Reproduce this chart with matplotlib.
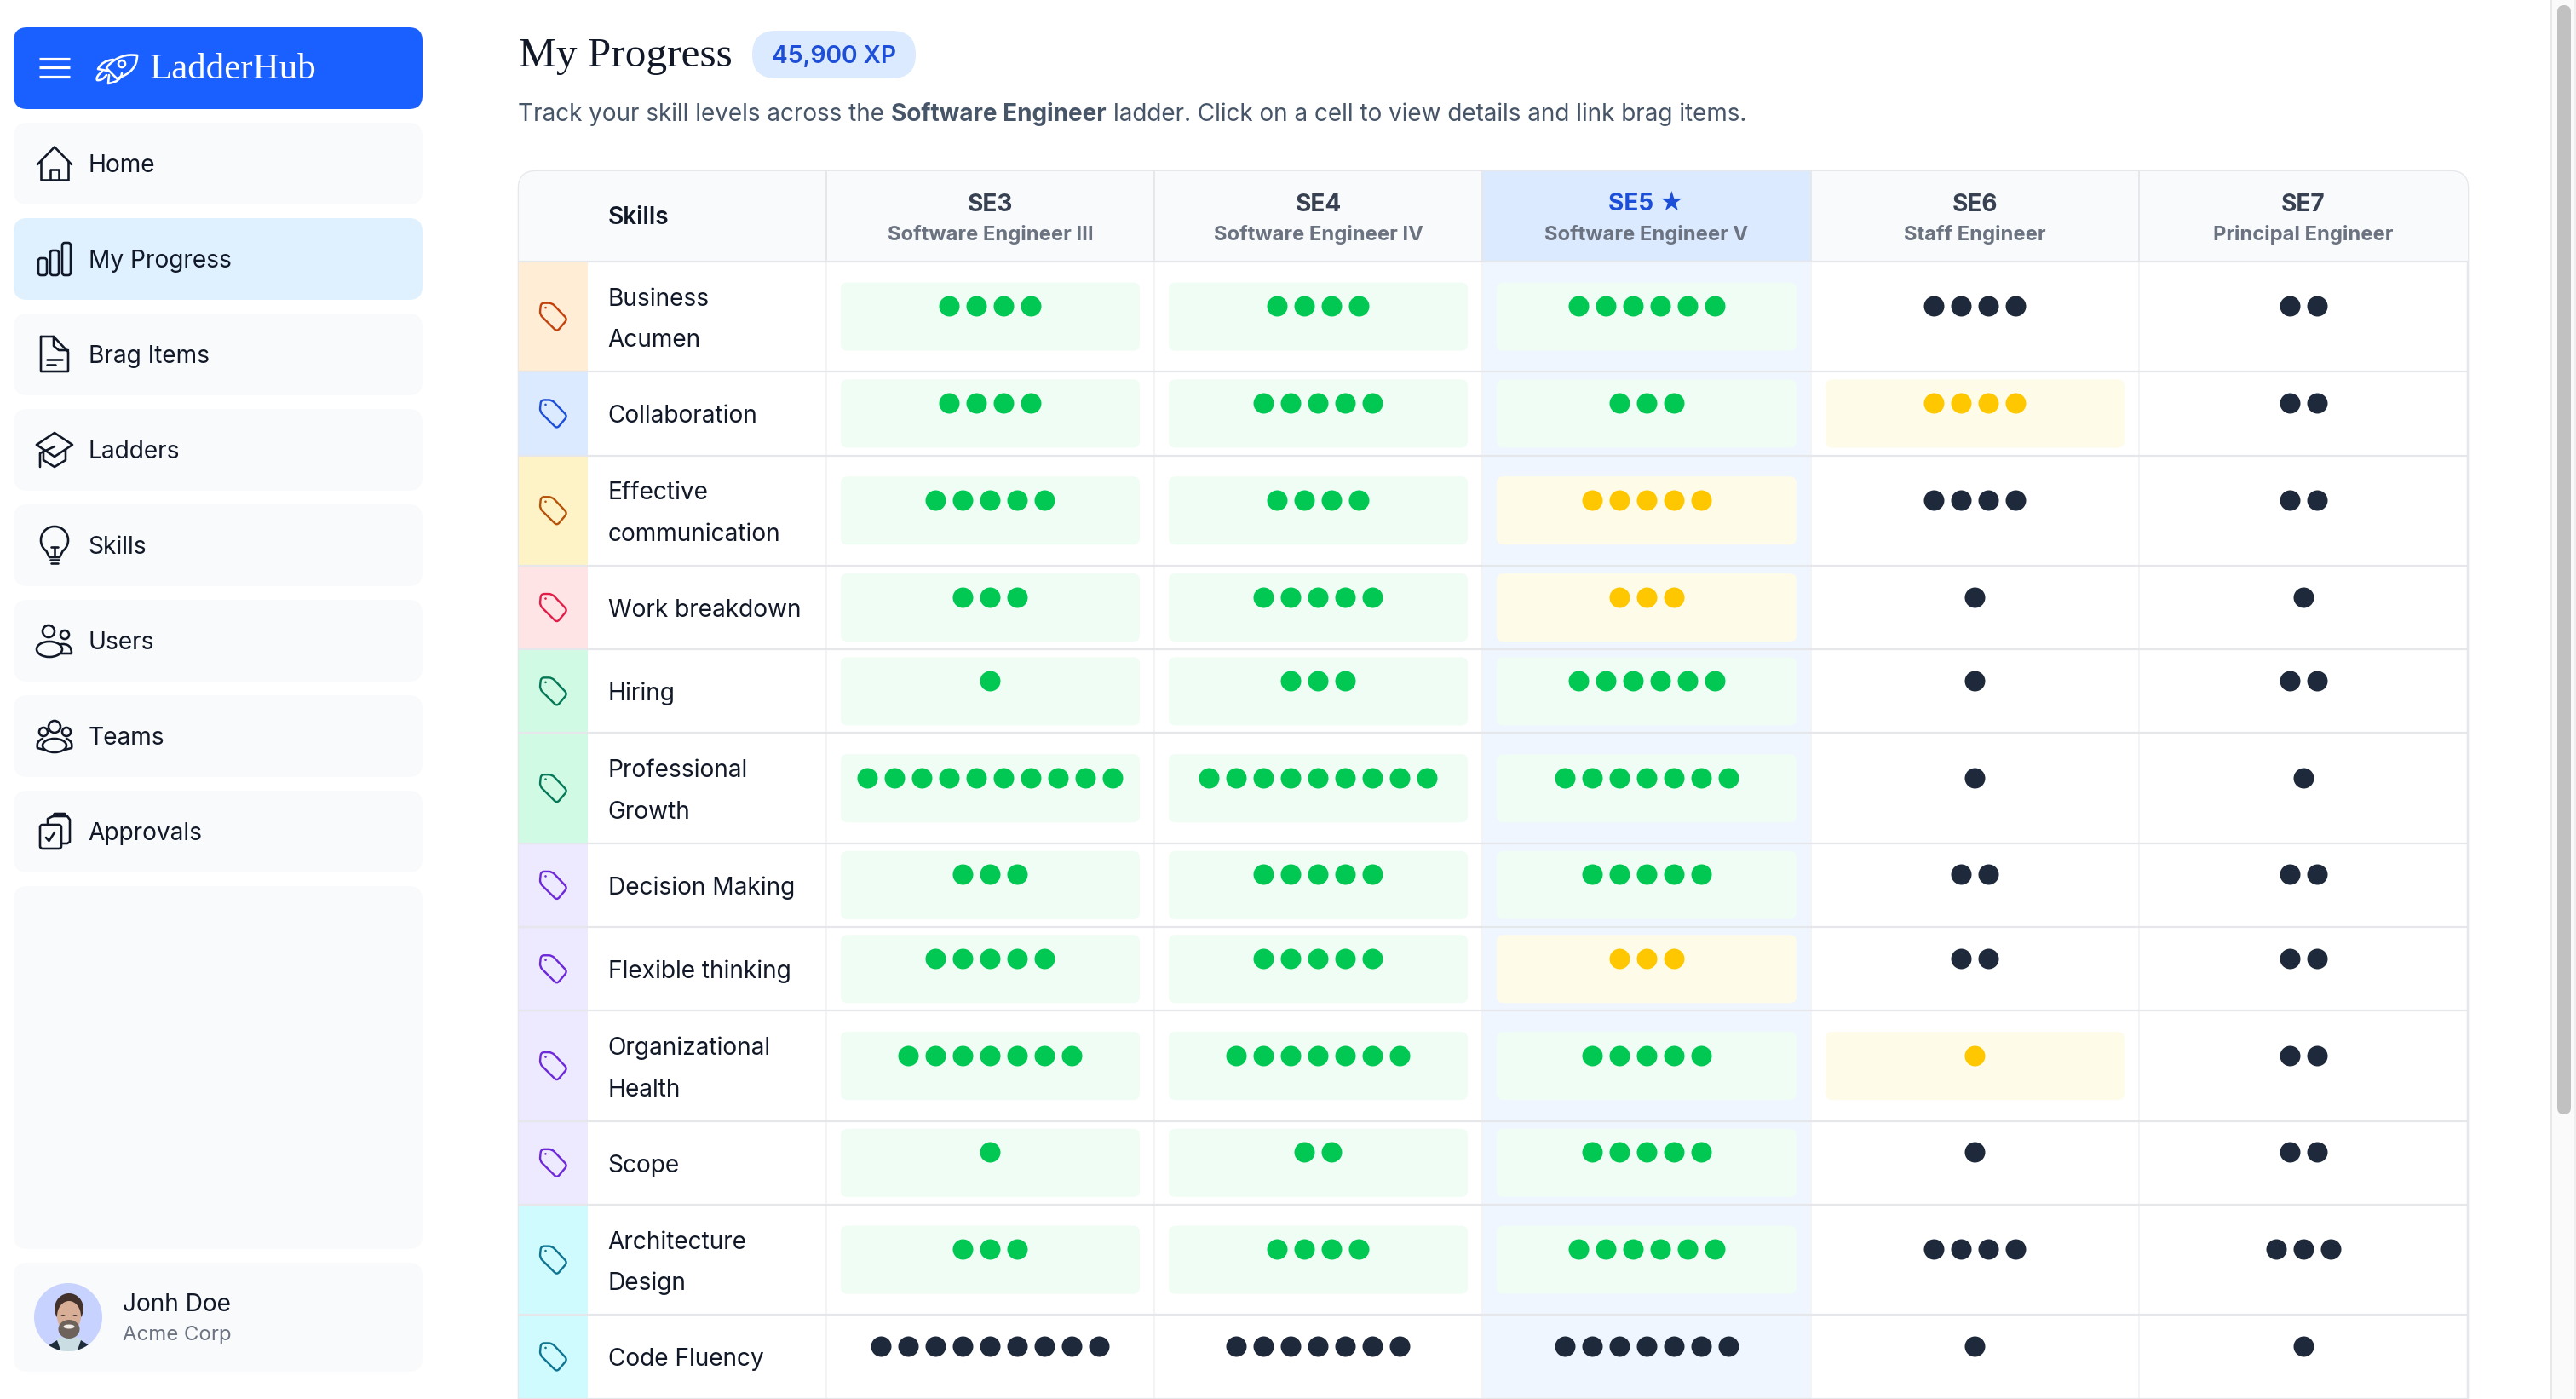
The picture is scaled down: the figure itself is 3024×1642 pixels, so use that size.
import math
import matplotlib
matplotlib.use('Agg')
import matplotlib.pyplot as plt
from matplotlib.patches import FancyBboxPatch, Rectangle, Circle, Ellipse, Polygon, PathPatch, Arc
from matplotlib.path import Path

# table data
skills = ['Business\nAcumen', 'Collaboration', 'Effective\ncommunication', 'Work breakdown', 'Hiring',
          'Professional\nGrowth', 'Decision Making', 'Flexible thinking', 'Organizational\nHealth',
          'Scope', 'Architecture\nDesign', 'Code Fluency']
tag_bg = ['#FFEDD5', '#DBEAFE', '#FEF3C7', '#FFE4E6', '#D1FAE5', '#D1FAE5',
          '#EDE9FE', '#EDE9FE', '#EDE9FE', '#EDE9FE', '#CFFAFE', '#CFFAFE']
tag_fg = ['#C2410C', '#1D4ED8', '#B45309', '#E11D48', '#047857', '#047857',
          '#6D28D9', '#6D28D9', '#6D28D9', '#6D28D9', '#0E7490', '#0E7490']

levels = ['SE3', 'SE4', 'SE5', 'SE6', 'SE7']
level_names = ['Software Engineer III', 'Software Engineer IV', 'Software Engineer V',
               'Staff Engineer', 'Principal Engineer']

se3_dots = [4, 4, 5, 3, 1, 10, 3, 5, 7, 1, 3, 9]
se4_dots = [4, 5, 4, 5, 3, 9, 5, 5, 7, 2, 4, 7]
se5_dots = [6, 3, 5, 3, 6, 7, 5, 3, 5, 5, 6, 7]
se6_dots = [4, 4, 4, 1, 1, 1, 2, 2, 1, 1, 4, 1]
se7_dots = [2, 2, 2, 1, 2, 1, 2, 2, 2, 2, 3, 1]

# g = met, y = in progress, d = not required yet
se3_state = 'gggggggggggd'
se4_state = 'gggggggggggd'
se5_state = 'ggyygggyggg' + 'd'
se6_state = 'dyddddddyddd'
se7_state = 'dddddddddddd'

menu_items = ['Home', 'My Progress', 'Brag Items', 'Ladders', 'Skills', 'Users', 'Teams', 'Approvals']

PX = 0.72  # 1px in points at dpi 100
INK = '#111827'
BORDER = '#E5E7EB'
BODY = 28.1
dot_colors = {'g': '#00C853', 'y': '#FFC700', 'd': '#1E293B'}
pill_colors = {'g': '#F0FDF4', 'y': '#FEFCE8'}

fig = plt.figure(figsize=(30.24, 16.42), dpi=100, facecolor='white')
ax = fig.add_axes([0, 0, 1, 1])
ax.set_xlim(0, 3024)
ax.set_ylim(1642, 0)
ax.axis('off')


def rbox(x0, y0, x1, y1, r, fc, ec='none', lw=0, z=1):
    p = FancyBboxPatch((x0 + r, y0 + r), x1 - x0 - 2 * r, y1 - y0 - 2 * r,
                       boxstyle=f'round,pad={r},rounding_size={r}', fc=fc, ec=ec, lw=lw * PX, zorder=z)
    ax.add_patch(p)
    return p


def txt(x, y, s, px=BODY, color=INK, weight='normal', ha='left', family='Inter', z=6):
    return ax.text(x, y, s, fontsize=px * PX, color=color, fontweight=weight, ha=ha, va='baseline',
                   family=family, zorder=z)


def stroke(cx, cy, pts, color=INK, lw=2.6, closed=False, z=5):
    xs = [cx + p[0] for p in pts]
    ys = [cy + p[1] for p in pts]
    if closed:
        xs.append(xs[0])
        ys.append(ys[0])
    ax.plot(xs, ys, color=color, lw=lw * PX, solid_capstyle='round', solid_joinstyle='round', zorder=z)


def ring(cx, cy, r, color=INK, lw=2.6, fc='none', z=5):
    ax.add_patch(Circle((cx, cy), r, fc=fc, ec=color, lw=lw * PX, zorder=z))


def blob(cx, cy, rx, ry, color=INK, fc='none', lw=2.6, z=5):
    ax.add_patch(Ellipse((cx, cy), 2 * rx, 2 * ry, fc=fc, ec=color, lw=lw * PX, zorder=z))


def curve(codes_pts, color='white', lw=2.6, z=5):
    verts = [p for _, p in codes_pts]
    codes = [c for c, _ in codes_pts]
    ax.add_patch(PathPatch(Path(verts, codes), fc='none', ec=color, lw=lw * PX, capstyle='round',
                           joinstyle='round', zorder=z))


def round_bar(x0, y0, x1, y1, r=3):
    rbox(x0, y0, x1, y1, r, 'none', INK, 2.6, z=5)


def rounded_poly(pts, d, color, lw):
    # polygon whose corners are cut by a small quadratic curve
    verts, codes = [], []
    n = len(pts)
    for i in range(n):
        px0, py0 = pts[i - 1]
        vx, vy = pts[i]
        nx, ny = pts[(i + 1) % n]
        a = math.hypot(px0 - vx, py0 - vy)
        b = math.hypot(nx - vx, ny - vy)
        start = (vx + (px0 - vx) * d / a, vy + (py0 - vy) * d / a)
        end = (vx + (nx - vx) * d / b, vy + (ny - vy) * d / b)
        verts += [start, (vx, vy), end]
        codes += [Path.MOVETO if i == 0 else Path.LINETO, Path.CURVE3, Path.CURVE3]
    verts.append(verts[0])
    codes.append(Path.LINETO)
    ax.add_patch(PathPatch(Path(verts, codes), fc='none', ec=color, lw=lw * PX, joinstyle='round', zorder=5))


# sidebar
rbox(16, 32, 496, 128, 16, '#1A5FFF')
for yy in [69, 79.5, 90]:
    ax.plot([46, 82], [yy, yy], color='white', lw=3.2 * PX, solid_capstyle='butt', zorder=5)

M, L, Q = Path.MOVETO, Path.LINETO, Path.CURVE3
curve([(M, (161, 65)), (Q, (141, 62)), (Q, (127, 77)), (L, (125, 80)), (L, (137, 92)),
       (Q, (161, 85)), (Q, (161, 65))])
ring(143, 75, 4, color='white')
curve([(M, (133, 70)), (Q, (120, 71)), (Q, (115, 81)), (L, (126, 83))])
curve([(M, (143, 86)), (Q, (142, 96)), (Q, (127, 98)), (L, (128, 88))])
curve([(M, (120, 84)), (Q, (112, 90)), (Q, (114, 94)), (Q, (120, 95)), (Q, (125, 88))])
txt(176, 92, 'LadderHub', px=43, color='white', family='Liberation Serif')

for i, name in enumerate(menu_items):
    top = 144 + 112 * i
    rbox(16, top, 496, top + 96, 16, '#DFF1FF' if name == 'My Progress' else '#F9FAFB')
    txt(103.5, top + 58, name)

# menu icons, all around x=64
cy = 192
stroke(64, cy, [(-20, 1), (0, -19.5), (20, 1)])
stroke(64, cy, [(-16, -3), (-16, 19), (16, 19), (16, -3)])
stroke(64, cy, [(-5, 19), (-5, 7), (5, 7), (5, 19)])
round_bar(45, 303, 55, 323)
round_bar(59, 294, 69, 323)
round_bar(73, 285, 83, 323)
cy = 416
stroke(64, cy, [(-16, -21), (-1, -21), (16, -3), (16, 20), (-16, 20)], closed=True)
stroke(64, cy, [(-1, -21), (-1, -10), (5, -5), (16, -5)])
stroke(64, cy, [(-9, 6), (9, 6)])
stroke(64, cy, [(-9, 12), (1, 12)])
cy = 528
stroke(64, cy, [(-21, -6), (0, -20), (21, -6), (0, 8)], closed=True)
stroke(64, cy, [(-13, 0), (-13, 12), (0, 20), (13, 12), (13, 0)])
stroke(64, cy, [(0, -4), (-17, 4), (-17, 20)])
cy = 640
ax.add_patch(Arc((64, 634), 32, 32, theta1=130, theta2=50, ec=INK, lw=2.6 * PX, zorder=5))
stroke(64, cy, [(-10, 6), (-6, 14), (6, 14), (10, 6)])
stroke(64, cy, [(-4, 2), (4, 2)])
stroke(64, cy, [(0, 2), (0, 13)])
stroke(64, cy, [(-5, 17), (5, 17)])
stroke(64, cy, [(-4, 21), (4, 21)])
ring(57, 741, 7)
ring(76, 745, 5)
blob(58, 762, 15, 9)
curve([(M, (72, 756)), (Q, (84, 755)), (Q, (84, 767)), (L, (70, 767))], color=INK)
ring(64, 853, 7)
ring(51, 859, 5)
ring(78, 859, 5)
blob(64, 875, 14, 8)
curve([(M, (50, 867)), (Q, (42, 870)), (Q, (44, 878)), (L, (52, 880))], color=INK)
curve([(M, (78, 867)), (Q, (86, 870)), (Q, (84, 878)), (L, (76, 880))], color=INK)
rbox(47, 968, 72, 996, 3, '#F9FAFB', INK, 2.6, z=5)
stroke(0, 0, [(62, 958), (79, 958), (82, 962), (82, 988), (79, 990), (72, 990)])
stroke(0, 0, [(56, 968), (56, 961), (62, 958)])
stroke(0, 0, [(62, 958), (64, 955), (76, 955), (78, 958)])
stroke(0, 0, [(54, 983), (57.5, 987), (64, 977)])

# avatar: small face drawn from primitives, clipped to the circle
rbox(16, 1040, 496, 1466, 16, '#F9FAFB')
rbox(16, 1482, 496, 1610, 16, '#F9FAFB')
disc = Circle((80, 1546), 40, fc='#C7D2FE', ec='none', zorder=3)
ax.add_patch(disc)
av = [
    Polygon([(67, 1570), (95, 1570), (94, 1590), (68, 1590)], fc='#C9DDE3', ec='none', zorder=4),
    Polygon([(50, 1590), (54, 1581), (67, 1573), (73, 1590)], fc='#1E2B3A', ec='none', zorder=4),
    Polygon([(112, 1590), (108, 1581), (95, 1573), (89, 1590)], fc='#1E2B3A', ec='none', zorder=4),
    Ellipse((81, 1536), 34, 36, fc='#43322B', ec='none', zorder=4),
    Ellipse((81, 1545), 28, 36, fc='#D9AE96', ec='none', zorder=4),
    Ellipse((81, 1560), 25, 22, fc='#6E635B', ec='none', zorder=4),
    Ellipse((81, 1557), 13, 5, fc='#F2EDE8', ec='none', zorder=4),
    Ellipse((74, 1544), 5, 2, fc='#4A3A33', ec='none', zorder=4),
    Ellipse((88, 1544), 5, 2, fc='#4A3A33', ec='none', zorder=4),
]
for p in av:
    ax.add_patch(p)
    p.set_clip_path(disc)
txt(144, 1539, 'Jonh Doe', px=28)
txt(144, 1573, 'Acme Corp', px=24, color='#6B7280')

# page heading
txt(609, 78, 'My Progress', px=49.2, family='Liberation Serif')
rbox(883, 36, 1075, 92, 28, '#DBEAFE')
txt(979, 74, '45,900 XP', px=28.2, color='#1D4ED8', weight='semibold', ha='center')

renderer = fig.canvas.get_renderer()
SUB = '#475569'
t1 = txt(608, 142, 'Track your skill levels across the', px=27.9, color=SUB)
x1 = t1.get_window_extent(renderer).x1 + 8
t2 = txt(x1, 142, 'Software Engineer', px=27.9, color=SUB, weight='bold')
x2 = t2.get_window_extent(renderer).x1 + 8
txt(x2, 142, 'ladder. Click on a cell to view details and link brag items.', px=27.9, color=SUB)

# table frame
LEFT, RIGHT, TOP, HEAD = 609, 2897, 201, 307
col_edges = [970, 1355, 1740, 2126, 2511, 2897]
frame = rbox(LEFT, TOP, RIGHT, 1760, 20, 'white', BORDER, 2.5, z=1)


def clipped(p):
    ax.add_patch(p)
    p.set_clip_path(frame)


clipped(Rectangle((LEFT, TOP), RIGHT - LEFT, HEAD - TOP, fc='#F9FAFB', ec='none', zorder=1.2))
clipped(Rectangle((col_edges[2], TOP), col_edges[3] - col_edges[2], HEAD - TOP, fc='#DBEAFE', ec='none', zorder=1.3))
clipped(Rectangle((col_edges[2], HEAD), col_edges[3] - col_edges[2], 1642 - HEAD, fc='#EFF6FF', ec='none', zorder=1.3))
ax.plot([LEFT, RIGHT], [HEAD, HEAD], color=BORDER, lw=2.2 * PX, zorder=3)

for i, x in enumerate(col_edges[:-1]):
    ax.plot([x, x], [TOP, HEAD], color=BORDER, lw=2 * PX, zorder=2)
    ax.plot([x, x], [HEAD, 1642], color='#F3F4F6', lw=2 * PX, zorder=2)

txt(713.5, 263, 'Skills', color=INK, weight='semibold')
for i, (lv, nm) in enumerate(zip(levels, level_names)):
    mid = (col_edges[i] + col_edges[i + 1]) / 2
    is_current = lv == 'SE5'
    label = lv + ' \u2605' if is_current else lv
    ax.text(mid, 248, label, fontsize=28 * PX, fontweight='bold', color='#1D4ED8' if is_current else '#374151',
            ha='center', va='baseline', family=['Inter', 'DejaVu Sans'], zorder=6)
    txt(mid, 282, nm, px=23.8, color='#6B7280', weight='bold', ha='center')

# rows
columns = [(se3_dots, se3_state), (se4_dots, se4_state), (se5_dots, se5_state),
           (se6_dots, se6_state), (se7_dots, se7_state)]
y = HEAD
for r, skill in enumerate(skills):
    two_lines = '\n' in skill
    h = 129.3 if two_lines else 98.3
    mid_y = y + h / 2

    clipped(Rectangle((LEFT, y), 690 - LEFT, h, fc=tag_bg[r], ec='none', zorder=1.4))

    # tag icon
    tag = [(-15, -16), (-2, -16), (16, 3), (3.8, 17.5), (-16.3, -2.5)]
    rounded_poly([(650 + a, mid_y + b) for a, b in tag], 4, tag_fg[r], 2.4)
    ax.add_patch(Circle((650 - 9.5, mid_y - 10.5), 1.3, fc=tag_fg[r], ec='none', zorder=5))

    if two_lines:
        a, b = skill.split('\n')
        txt(713.5, mid_y - 13, a)
        txt(713.5, mid_y + 35.5, b)
    else:
        txt(713.5, mid_y + 11, skill)

    pill_top = mid_y - 40
    for c, (dots, state) in enumerate(columns):
        s = state[r]
        if s in pill_colors:
            rbox(col_edges[c] + 17, pill_top, col_edges[c + 1] - 17, pill_top + 80, 8, pill_colors[s], z=2)
        n = dots[r]
        center = (col_edges[c] + col_edges[c + 1]) / 2 - 0.5
        xs = [center + (k - (n - 1) / 2) * 32 for k in range(n)]
        ax.scatter(xs, [pill_top + 27.5] * n, s=(24 * PX) ** 2, color=dot_colors[s], linewidths=0, zorder=4)

    y += h
    if y < 1642:
        ax.plot([LEFT, RIGHT], [y, y], color=BORDER, lw=2.2 * PX, zorder=3)

# scrollbar
ax.add_patch(Rectangle((2995, 0), 29, 1642, fc='#FAFAFA', ec='none', zorder=1))
ax.plot([2995, 2995], [0, 1642], color='#E8E8E8', lw=2 * PX, zorder=2)
ax.plot([3022.5, 3022.5], [0, 1642], color='#EFEFEF', lw=2 * PX, zorder=2)
rbox(3002, 6, 3018, 1308, 8, '#C1C1C1', z=3)

fig.savefig('out.png', dpi=100, facecolor='white')
